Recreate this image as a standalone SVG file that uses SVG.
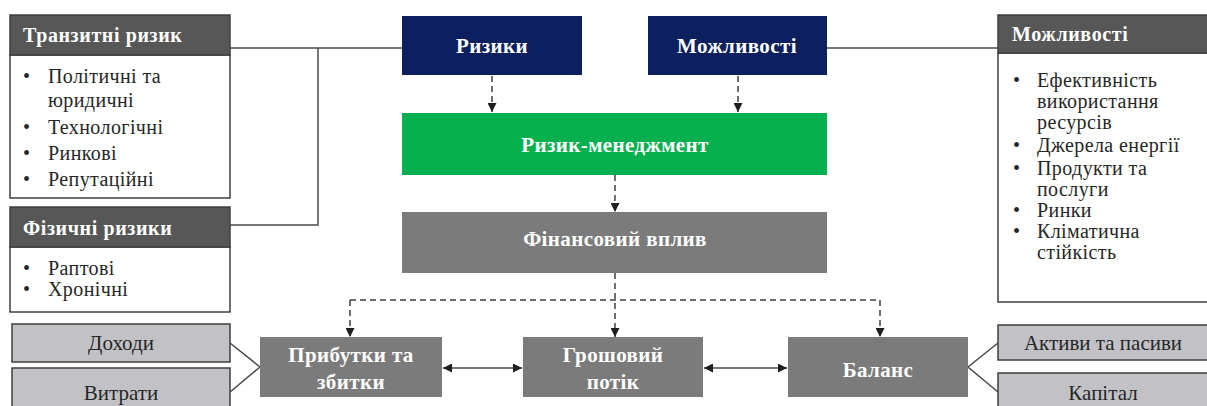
<svg xmlns="http://www.w3.org/2000/svg" width="1207" height="406" viewBox="0 0 1207 406" font-family="Liberation Serif, DejaVu Serif, serif">
  <style>
    .hdr { fill: #575757; stroke: #3f3f3f; stroke-width: 1.5; }
    .body { fill: #ffffff; stroke: #3f3f3f; stroke-width: 1.5; }
    .navy { fill: #0c1f5e; }
    .green { fill: #07b04f; }
    .gray { fill: #7b7b7b; }
    .light { fill: #c2c2c6; stroke: #3f3f3f; stroke-width: 1.5; }
    .hdr-t { font-family: 'Liberation Serif', 'DejaVu Serif', serif; fill: #ffffff; font-weight: bold; font-size: 20px; letter-spacing: 0.6px; }
    .box-t { font-family: 'Liberation Serif', 'DejaVu Serif', serif; fill: #ffffff; font-weight: bold; font-size: 21px; letter-spacing: 0.4px; text-anchor: middle; }
    .item { font-family: 'Liberation Serif', 'DejaVu Serif', serif; fill: #262626; font-size: 20px; letter-spacing: 0.4px; }
    .item-r { font-family: 'Liberation Serif', 'DejaVu Serif', serif; fill: #262626; font-size: 20px; letter-spacing: 0.4px; }
    .lt { font-family: 'Liberation Serif', 'DejaVu Serif', serif; fill: #262626; font-size: 21px; text-anchor: middle; }
    .solid { fill: none; stroke: #4a4a4a; stroke-width: 1.5; }
    .dash { fill: none; stroke: #404040; stroke-width: 1.5; stroke-dasharray: 6 4; }
  </style>
  <defs>
    <marker id="tri" viewBox="0 0 10 10" refX="10" refY="5" markerWidth="9" markerHeight="9" markerUnits="userSpaceOnUse" orient="auto-start-reverse">
      <path d="M0,0 L10,5 L0,10 Z" fill="#1e1e1e"/>
    </marker>
  </defs>
  <rect width="1207" height="406" fill="#ffffff"/>

  <!-- connectors -->
  <g id="connectors">
    <path class="solid" d="M230,48 H402"/>
    <path class="solid" d="M318,48 V225 H230"/>
    <path class="solid" d="M827,48 H998"/>
    <path class="solid" d="M230,343 L260,367 L230,392"/>
    <path class="solid" d="M998,343 L968,367 L998,392"/>
    <path class="dash" d="M492,76 V112" marker-end="url(#tri)"/>
    <path class="dash" d="M738,76 V112" marker-end="url(#tri)"/>
    <path class="dash" d="M615,175 V212" marker-end="url(#tri)"/>
    <path class="dash" d="M615,273 V337" marker-end="url(#tri)"/>
    <path class="dash" d="M350,300 H880"/>
    <path class="dash" d="M350,300 V337" marker-end="url(#tri)"/>
    <path class="dash" d="M880,300 V337" marker-end="url(#tri)"/>
    <path class="solid" d="M443,368 H522" marker-start="url(#tri)" marker-end="url(#tri)"/>
    <path class="solid" d="M704,368 H787" marker-start="url(#tri)" marker-end="url(#tri)"/>
  </g>

  <!-- transition risks -->
  <g id="transition-risks">
    <rect class="body" x="10" y="55" width="220" height="143"/>
    <rect class="hdr" x="10" y="15" width="220" height="40"/>
    <text class="hdr-t" x="23" y="42">Транзитні ризик</text>
    <text class="item" x="23" y="83">•</text><text class="item" x="48" y="83">Політичні та</text>
    <text class="item" x="48" y="107">юридичні</text>
    <text class="item" x="23" y="134">•</text><text class="item" x="48" y="134">Технологічні</text>
    <text class="item" x="23" y="160">•</text><text class="item" x="48" y="160">Ринкові</text>
    <text class="item" x="23" y="186">•</text><text class="item" x="48" y="186">Репутаційні</text>
  </g>

  <!-- physical risks -->
  <g id="physical-risks">
    <rect class="body" x="10" y="247" width="220" height="65"/>
    <rect class="hdr" x="10" y="207" width="220" height="40"/>
    <text class="hdr-t" x="23" y="235">Фізичні ризики</text>
    <text class="item" x="23" y="275">•</text><text class="item" x="48" y="275">Раптові</text>
    <text class="item" x="23" y="296">•</text><text class="item" x="48" y="296">Хронічні</text>
  </g>

  <!-- opportunities list -->
  <g id="opportunities-list">
    <rect class="body" x="998" y="53" width="215" height="249"/>
    <rect class="hdr" x="998" y="15" width="215" height="38"/>
    <text class="hdr-t" x="1012" y="41">Можливості</text>
    <text class="item-r" x="1013" y="87">•</text><text class="item-r" x="1037" y="87">Ефективність</text>
    <text class="item-r" x="1037" y="108">використання</text>
    <text class="item-r" x="1037" y="129">ресурсів</text>
    <text class="item-r" x="1013" y="152">•</text><text class="item-r" x="1037" y="152">Джерела енергії</text>
    <text class="item-r" x="1013" y="175">•</text><text class="item-r" x="1037" y="175">Продукти та</text>
    <text class="item-r" x="1037" y="196">послуги</text>
    <text class="item-r" x="1013" y="217">•</text><text class="item-r" x="1037" y="217">Ринки</text>
    <text class="item-r" x="1013" y="238">•</text><text class="item-r" x="1037" y="238">Кліматична</text>
    <text class="item-r" x="1037" y="259">стійкість</text>
  </g>

  <g id="risks">
    <rect class="navy" x="402" y="16" width="180" height="59"/>
    <text class="box-t" x="492" y="53">Ризики</text>
  </g>
  <g id="opportunities">
    <rect class="navy" x="648" y="16" width="179" height="59"/>
    <text class="box-t" x="737" y="53">Можливості</text>
  </g>
  <g id="risk-management">
    <rect class="green" x="402" y="113" width="425" height="62"/>
    <text class="box-t" x="615" y="152">Ризик-менеджмент</text>
  </g>
  <g id="financial-impact">
    <rect class="gray" x="402" y="212" width="425" height="61"/>
    <text class="box-t" x="615" y="246">Фінансовий вплив</text>
  </g>
  <g id="profit-loss">
    <rect class="gray" x="260" y="337" width="182" height="60"/>
    <text class="box-t" x="351" y="362">Прибутки та</text>
    <text class="box-t" x="351" y="389">збитки</text>
  </g>
  <g id="cash-flow">
    <rect class="gray" x="523" y="337" width="180" height="60"/>
    <text class="box-t" x="613" y="362">Грошовий</text>
    <text class="box-t" x="613" y="389">потік</text>
  </g>
  <g id="balance">
    <rect class="gray" x="788" y="337" width="180" height="60"/>
    <text class="box-t" x="878" y="377">Баланс</text>
  </g>
  <g id="income">
    <rect class="light" x="12" y="324" width="218" height="38"/>
    <text class="lt" x="121" y="350">Доходи</text>
  </g>
  <g id="expenses">
    <rect class="light" x="12" y="368" width="218" height="45"/>
    <text class="lt" x="121" y="400">Витрати</text>
  </g>
  <g id="assets-liabilities">
    <rect class="light" x="998" y="325" width="215" height="35"/>
    <text class="lt" x="1103" y="350">Активи та пасиви</text>
  </g>
  <g id="capital">
    <rect class="light" x="998" y="373" width="215" height="40"/>
    <text class="lt" x="1103" y="400">Капітал</text>
  </g>
</svg>
